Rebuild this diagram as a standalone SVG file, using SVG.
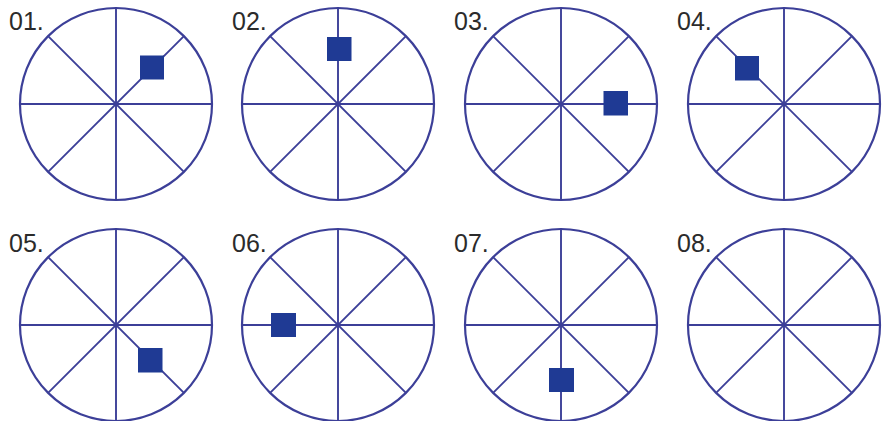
<svg xmlns="http://www.w3.org/2000/svg" width="882" height="421" viewBox="0 0 882 421">
<defs>
<style>
.rim{fill:none;stroke:#3c3f98;stroke-width:2.2}
.sp{stroke:#3c3f98;stroke-width:1.9}
.mk{fill:#1f3a94}
.lb{font-family:"Liberation Sans",Arial,sans-serif;font-size:25px;fill:#2b2b2b}
</style>
<g id="wheel">
<circle class="rim" cx="0" cy="0" r="96"/>
<line class="sp" x1="-96" y1="0" x2="96" y2="0"/>
<line class="sp" x1="0" y1="-96" x2="0" y2="96"/>
<line class="sp" x1="-67.9" y1="-67.9" x2="67.9" y2="67.9"/>
<line class="sp" x1="-67.9" y1="67.9" x2="67.9" y2="-67.9"/>
</g>
</defs>
<rect width="882" height="421" fill="#ffffff"/>
<g id="n01"><use href="#wheel" x="116" y="104"/><rect class="mk" x="140" y="55.5" width="24" height="24"/><text class="lb" x="9" y="30">01.</text></g>
<g id="n02"><use href="#wheel" x="338" y="104"/><rect class="mk" x="327" y="37" width="24.5" height="24"/><text class="lb" x="232" y="30">02.</text></g>
<g id="n03"><use href="#wheel" x="561" y="104"/><rect class="mk" x="603.5" y="91" width="24.5" height="24.5"/><text class="lb" x="454" y="30">03.</text></g>
<g id="n04"><use href="#wheel" x="784" y="104"/><rect class="mk" x="735" y="56" width="24" height="24.5"/><text class="lb" x="677" y="30">04.</text></g>
<g id="n05"><use href="#wheel" x="116" y="325"/><rect class="mk" x="138" y="348" width="24.5" height="24.5"/><text class="lb" x="9" y="252">05.</text></g>
<g id="n06"><use href="#wheel" x="338" y="325"/><rect class="mk" x="271" y="313" width="25" height="24"/><text class="lb" x="232" y="252">06.</text></g>
<g id="n07"><use href="#wheel" x="561" y="325"/><rect class="mk" x="549" y="368" width="25" height="24"/><text class="lb" x="454" y="252">07.</text></g>
<g id="n08"><use href="#wheel" x="784" y="325"/><text class="lb" x="677" y="252">08.</text></g>
<g id="connectors"></g>
</svg>
